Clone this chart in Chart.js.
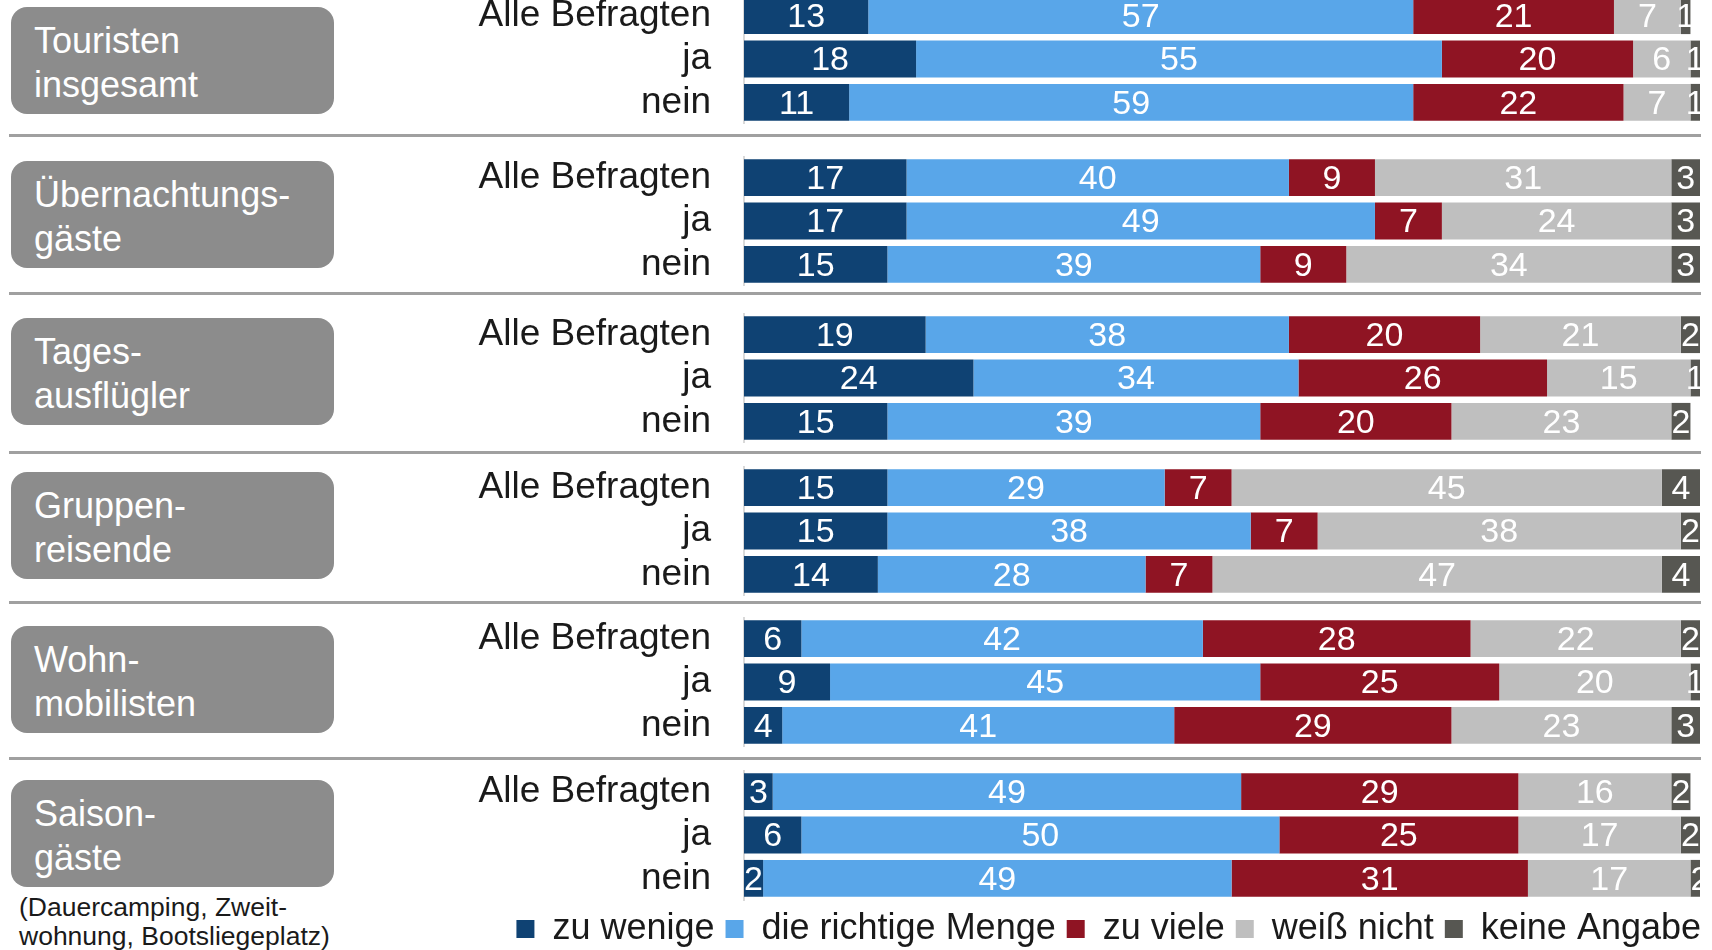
<!DOCTYPE html>
<html lang="de">
<head>
<meta charset="utf-8">
<title>Touristen – Bewertung</title>
<script src="https://cdn.jsdelivr.net/npm/chart.js@4.4.1/dist/chart.umd.min.js"></script>
<style>
  body {
    margin: 0;
    width: 1712px;
    height: 950px;
    overflow: hidden;
    background: #fff;
    position: relative;
    font-family: "Liberation Sans", Arial, sans-serif;
  }
  .box {
    position: absolute;
    left: 11px;
    width: 323px;
    height: 107px;
    box-sizing: border-box;
    padding: 12px 0 0 23px;
    background: #8c8c8c;
    border-radius: 16px;
    color: #fff;
    font-size: 36px;
    line-height: 44px;
  }
  .sep {
    position: absolute;
    left: 9px;
    width: 1692px;
    height: 3px;
    background: #a0a0a0;
  }
  canvas { position: absolute; left: 440px; }
  .note {
    position: absolute;
    left: 19px;
    top: 893px;
    font-size: 26.5px;
    line-height: 29px;
    color: #1a1a1a;
  }
</style>
</head>
<body>
<div id="root"></div>
<div class="note">(Dauercamping, Zweit-<br>wohnung, Bootsliegeplatz)</div>

<script>
// --- data ---
const groupNames = ['Touristen|insgesamt', 'Übernachtungs-|gäste', 'Tages-|ausflügler',
                    'Gruppen-|reisende', 'Wohn-|mobilisten', 'Saison-|gäste'];
const rowLabels = ['Alle Befragten', 'ja', 'nein'];
const seriesNames = ['zu wenige', 'die richtige Menge', 'zu viele', 'weiß nicht', 'keine Angabe'];

// one inner array per group: [Alle Befragten, ja, nein]
const zuWenige      = [[13, 18, 11], [17, 17, 15], [19, 24, 15], [15, 15, 14], [6, 9, 4],    [3, 6, 2]];
const richtigeMenge = [[57, 55, 59], [40, 49, 39], [38, 34, 39], [29, 38, 28], [42, 45, 41], [49, 50, 49]];
const zuViele       = [[21, 20, 22], [9, 7, 9],    [20, 26, 20], [7, 7, 7],    [28, 25, 29], [29, 25, 31]];
const weissNicht    = [[7, 6, 7],    [31, 24, 34], [21, 15, 23], [45, 38, 47], [22, 20, 23], [16, 17, 17]];
const keineAngabe   = [[1, 1, 1],    [3, 3, 3],    [2, 1, 2],    [4, 2, 4],    [2, 1, 3],    [2, 2, 2]];

const seriesValues = [zuWenige, richtigeMenge, zuViele, weissNicht, keineAngabe];
const seriesColors = ['#0f4273', '#59a6e9', '#8f1423', '#bfbfbf', '#575752'];

// --- layout (page pixels) ---
const chartTops = [-6, 156, 313, 466, 617, 770];
const boxTops = [7, 161, 318, 472, 626, 780];
const sepTops = [134, 292, 451, 601, 757];

const FONT = '"Liberation Sans", Arial, sans-serif';
Chart.defaults.font.family = FONT;

// white numbers in the middle of every segment
const valueLabels = {
  id: 'valueLabels',
  afterDatasetsDraw(chart) {
    const { ctx, chartArea } = chart;
    ctx.save();
    ctx.beginPath();
    ctx.rect(chartArea.left, chartArea.top, chartArea.right - chartArea.left, chartArea.bottom - chartArea.top);
    ctx.clip();
    ctx.font = '34px ' + FONT;
    ctx.fillStyle = '#fff';
    ctx.textAlign = 'center';
    ctx.textBaseline = 'middle';
    chart.data.datasets.forEach((ds, i) => {
      chart.getDatasetMeta(i).data.forEach((bar, j) => {
        ctx.fillText(String(ds.data[j]), (bar.x + bar.base) / 2, bar.y + 2);
      });
    });
    ctx.restore();
  }
};

// legend sits a little further right than the bars end
const legendShift = {
  id: 'legendShift',
  afterLayout(chart) {
    if (chart.legend && chart.legend.options.display) {
      chart.legend.left += 12;
      chart.legend.right += 12;
    }
  }
};

const root = document.getElementById('root');

sepTops.forEach(top => {
  const d = document.createElement('div');
  d.className = 'sep';
  d.style.top = top + 'px';
  root.appendChild(d);
});

groupNames.forEach((name, g) => {
  const box = document.createElement('div');
  box.className = 'box';
  box.style.top = boxTops[g] + 'px';
  box.innerHTML = name.split('|').join('<br>');
  root.appendChild(box);

  const isLast = g === groupNames.length - 1;
  const canvas = document.createElement('canvas');
  canvas.width = 1272;
  canvas.height = isLast ? 187 : 130;
  canvas.style.top = chartTops[g] + 'px';
  root.appendChild(canvas);

  new Chart(canvas, {
    type: 'bar',
    data: {
      labels: rowLabels,
      datasets: seriesNames.map((label, s) => ({
        label,
        data: seriesValues[s][g],
        backgroundColor: seriesColors[s],
        borderWidth: 0,
        barPercentage: 0.85,
        categoryPercentage: 1
      }))
    },
    options: {
      indexAxis: 'y',
      responsive: false,
      animation: false,
      layout: { padding: { left: 0, top: 0, bottom: 0, right: 12 } },
      scales: {
        x: { stacked: true, min: 0, max: 100, display: false },
        y: {
          stacked: true,
          grid: { display: false, drawTicks: false },
          border: { display: true, color: '#d9d9d9', width: 2 },
          ticks: { font: { size: 37 }, color: '#1a1a1a', padding: 33, autoSkip: false },
          afterFit(scale) {
            scale.width = 304;
            scale.paddingTop = 0;
            scale.paddingBottom = 0;
          }
        }
      },
      plugins: {
        tooltip: { enabled: false },
        legend: {
          display: isLast,
          position: 'bottom',
          align: 'end',
          labels: {
            font: { size: 36 },
            color: '#1a1a1a',
            boxWidth: 18,
            boxHeight: 18,
            padding: 11
          }
        }
      }
    },
    plugins: [valueLabels, legendShift]
  });
});
</script>
</body>
</html>
